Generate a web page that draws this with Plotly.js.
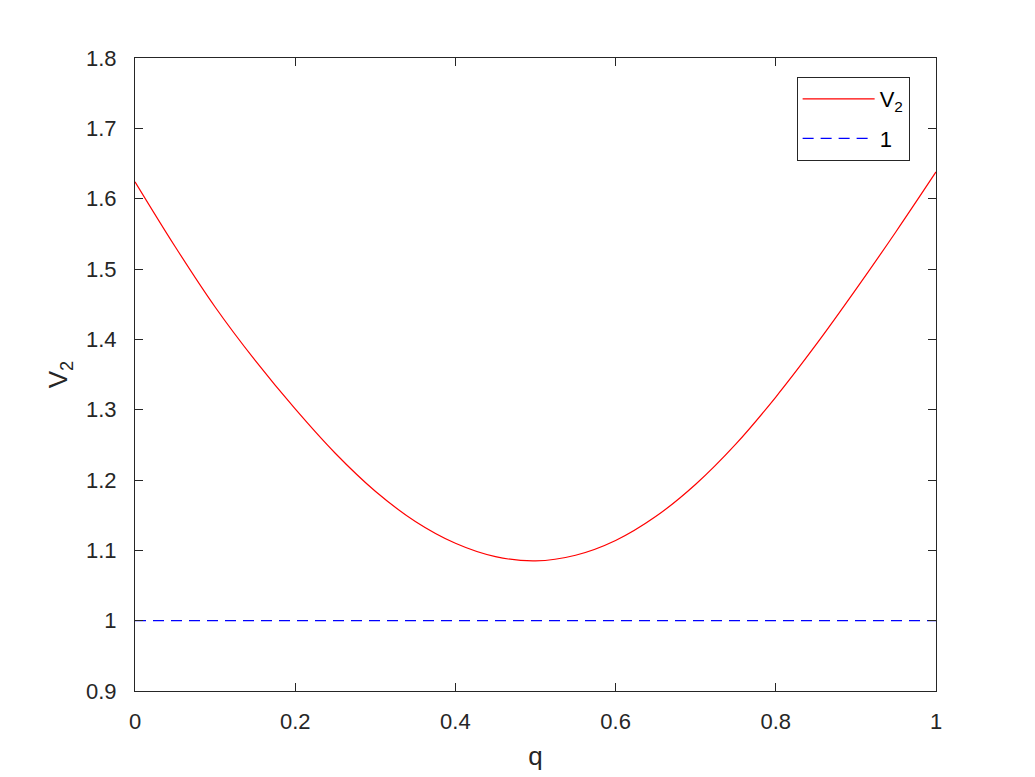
<!DOCTYPE html>
<html>
<head>
<meta charset="utf-8">
<script src="https://cdn.plot.ly/plotly-3.0.1.min.js"></script>
<style>
  html, body { margin: 0; padding: 0; background: #fff; }
  #chart { width: 1035px; height: 777px; }
</style>
</head>
<body>
<div id="chart"></div>
<script>
// values
const q = [0, 0.05, 0.1, 0.15, 0.2, 0.25, 0.3, 0.35, 0.4, 0.45, 0.5,
           0.55, 0.6, 0.65, 0.7, 0.75, 0.8, 0.85, 0.9, 0.95, 1];
const v2 = [1.624, 1.532, 1.446, 1.370, 1.301, 1.238, 1.184, 1.141, 1.110, 1.091, 1.085,
            1.093, 1.114, 1.148, 1.194, 1.251, 1.318, 1.392, 1.471, 1.553, 1.638];
const refX = [0, 1];
const refY = [1, 1];

const xTicks = [0, 0.2, 0.4, 0.6, 0.8, 1];
const xTickText = ['0', '0.2', '0.4', '0.6', '0.8', '1'];
const yTicks = [0.9, 1, 1.1, 1.2, 1.3, 1.4, 1.5, 1.6, 1.7, 1.8];
const yTickText = ['0.9', '1', '1.1', '1.2', '1.3', '1.4', '1.5', '1.6', '1.7', '1.8'];

const font = 'Liberation Sans, Arial, sans-serif';

const traces = [
  {
    x: q, y: v2,
    type: 'scatter', mode: 'lines',
    line: { color: '#ff0000', width: 1.2, shape: 'spline', smoothing: 1 },
    name: 'V<sub>2</sub>',
    legendgroup: 'a'
  },
  {
    x: refX, y: refY,
    type: 'scatter', mode: 'lines',
    line: { color: '#0000ff', width: 1.2, dash: '11px,7px' },
    name: '1',
    legendgroup: 'b'
  }
];

const axisCommon = {
  showgrid: false,
  zeroline: false,
  showline: true,
  linecolor: '#262626',
  linewidth: 1,
  mirror: 'allticks',
  ticks: 'inside',
  ticklen: 8,
  tickwidth: 1,
  tickcolor: '#262626',
  tickfont: { family: font, size: 22, color: '#262626' }
};

const layout = {
  width: 1035,
  height: 777,
  margin: { l: 135, r: 99, t: 58, b: 86 },
  paper_bgcolor: '#ffffff',
  plot_bgcolor: '#ffffff',
  font: { family: font, color: '#262626' },
  showlegend: true,
  legend: {
    x: 0.826, y: 0.97, xanchor: 'left', yanchor: 'top',
    bgcolor: '#ffffff',
    bordercolor: '#262626',
    borderwidth: 1,
    font: { family: font, size: 22, color: '#000000' },
    itemwidth: 72,
    tracegroupgap: 8
  },
  xaxis: Object.assign({}, axisCommon, {
    range: [0, 1],
    tickvals: xTicks,
    ticktext: xTickText,
    ticklabelstandoff: 11,
    title: { text: 'q', font: { family: font, size: 26, color: '#262626' }, standoff: 13 }
  }),
  yaxis: Object.assign({}, axisCommon, {
    range: [0.9, 1.8],
    tickvals: yTicks,
    ticktext: yTickText,
    ticklabelstandoff: 13,
    title: { text: 'V<sub>2</sub>', font: { family: font, size: 26, color: '#262626' }, standoff: 10 }
  })
};

Plotly.newPlot('chart', traces, layout, { displayModeBar: false, staticPlot: true });
</script>
</body>
</html>
